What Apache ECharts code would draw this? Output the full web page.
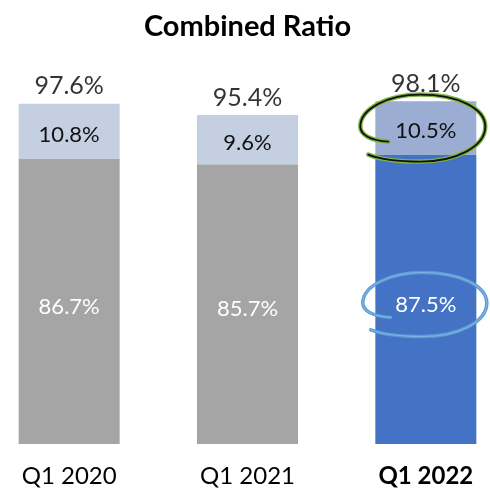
<!DOCTYPE html>
<html>
<head>
<meta charset="utf-8">
<script src="https://cdn.jsdelivr.net/npm/echarts@6/dist/echarts.min.js"></script>
<style>
  html, body { margin: 0; padding: 0; background: #fff; overflow: hidden; width: 490px; height: 488px; }
  /* plot is a bit wider than the window, the outer halves of the side bands are cut off */
  #chart { position: absolute; left: -20px; top: 0; width: 535px; height: 488px; }
</style>
</head>
<body>
<div id="chart"></div>
<script>
var categories = ['Q1 2020', 'Q1 2021', 'Q1 2022'];
var lossRatio = [86.7, 85.7, 87.5];
var expenseRatio = [10.8, 9.6, 10.5];
var combinedRatio = [97.6, 95.4, 98.1];
var highlightIndex = 2;
var yMin = 31;

var font = 'Lato, "Open Sans", sans-serif';

// hand drawn loops round the highlighted labels: [category, y value, kind]
var loops = [
  [highlightIndex, lossRatio[highlightIndex] + expenseRatio[highlightIndex] / 2, 0],
  [highlightIndex, (yMin + lossRatio[highlightIndex]) / 2, 1]
];

// loop outline in a 125 x 67 box, scaled to place
var loopCmds = [
  ['M', 28, 47],
  ['C', 10, 46, 0, 40, 0, 32],
  ['C', 0, 14, 28, 0, 60, 0],
  ['C', 98, 0, 125, 14, 125, 32],
  ['C', 125, 52, 96, 67, 60, 67],
  ['C', 38, 67, 18, 64, 8, 60]
];

function loopPath(x0, y0, w, h) {
  var sx = w / 125, sy = h / 67;
  return loopCmds.map(function (c) {
    var s = c[0];
    for (var i = 1; i < c.length; i += 2) {
      s += (i > 1 ? ' ' : '') + (x0 + c[i] * sx).toFixed(1) + ',' + (y0 + c[i + 1] * sy).toFixed(1);
    }
    return s;
  }).join(' ');
}

var chart = echarts.init(document.getElementById('chart'));

var option = {
  animation: false,
  title: {
    text: 'Combined Ratio',
    left: 'center',
    top: 7,
    textStyle: { fontFamily: font, fontSize: 29, fontWeight: 'bold', color: '#000' }
  },
  grid: { left: 0, right: 0, top: 91, bottom: 43, containLabel: false },
  xAxis: {
    type: 'category',
    data: categories,
    axisLine: { show: false },
    axisTick: { show: false },
    axisLabel: {
      margin: 20,
      fontFamily: font,
      fontSize: 24,
      color: '#000',
      formatter: function (v, i) {
        return i === highlightIndex ? '{b|' + v + '}' : v;
      },
      rich: { b: { fontFamily: font, fontSize: 24, fontWeight: 'bold', color: '#000' } }
    }
  },
  yAxis: { type: 'value', min: yMin, max: 100, show: false, splitLine: { show: false } },
  series: [
    {
      type: 'bar',
      stack: 'cr',
      barWidth: 101,
      clip: true,
      data: lossRatio,
      itemStyle: {
        color: function (p) { return p.dataIndex === highlightIndex ? '#4472C4' : '#A5A5A5'; }
      },
      label: {
        show: true, position: 'inside', offset: [0, 5], color: '#fff',
        fontFamily: font, fontSize: 22,
        formatter: function (p) { return p.value.toFixed(1) + '%'; }
      }
    },
    {
      type: 'bar',
      stack: 'cr',
      barWidth: 101,
      clip: true,
      data: expenseRatio,
      itemStyle: {
        color: function (p) { return p.dataIndex === highlightIndex ? '#9BADD2' : '#C4CFE2'; }
      },
      label: {
        show: true, position: 'inside', offset: [0, 3], color: '#111',
        fontFamily: font, fontSize: 22,
        formatter: function (p) { return p.value.toFixed(1) + '%'; }
      }
    },
    {
      type: 'scatter',
      data: combinedRatio,
      symbolSize: 1,
      itemStyle: { color: 'rgba(0,0,0,0)' },
      label: {
        show: true, position: 'top', distance: 4, color: '#000',
        fontFamily: font, fontSize: 25,
        formatter: function (p) { return p.value.toFixed(1) + '%'; }
      },
      z: 5
    },
    {
      type: 'custom',
      data: loops,
      encode: { x: 0, y: 1 },
      silent: true,
      z: 10,
      renderItem: function (params, api) {
        var c = api.coord([api.value(0), api.value(1)]);
        var kind = api.value(2);
        var w = kind === 0 ? 125 : 124;
        var h = kind === 0 ? 67 : 64;
        var x0 = c[0] - w / 2 + (kind === 0 ? -3 : -1);
        var y0 = c[1] - h / 2 + (kind === 0 ? 0 : 5);
        var shape = { pathData: loopPath(x0, y0, w, h) };
        if (kind === 0) {
          return {
            type: 'group',
            children: [
              { type: 'path', shape: shape, style: { fill: null, stroke: '#7DB544', lineWidth: 4.5, lineCap: 'round' } },
              { type: 'path', shape: shape, style: { fill: null, stroke: '#111', lineWidth: 1.8, lineCap: 'round' } }
            ]
          };
        }
        return {
          type: 'group',
          children: [
            { type: 'path', shape: shape, style: { fill: null, stroke: '#5A9BD5', lineWidth: 3.5, lineCap: 'round' } },
            { type: 'path', shape: shape, style: { fill: null, stroke: '#7FB3E0', lineWidth: 1.2, lineCap: 'round' } }
          ]
        };
      }
    }
  ]
};

chart.setOption(option);
</script>
</body>
</html>
